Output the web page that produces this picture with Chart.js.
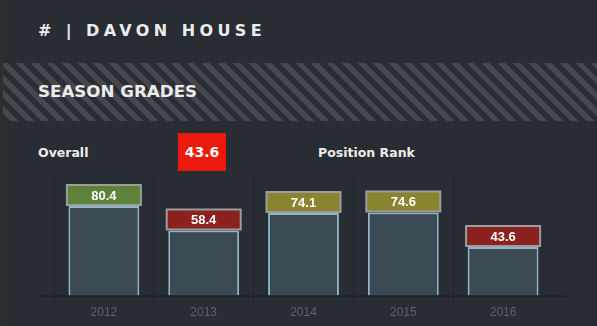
<!DOCTYPE html>
<html>
<head>
<meta charset="utf-8">
<title>Season Grades</title>
<script src="https://cdn.jsdelivr.net/npm/chart.js@4.4.0/dist/chart.umd.min.js"></script>
<style>
  body { margin:0; width:597px; height:326px; background:#282c33; overflow:hidden; position:relative;
         font-family:"DejaVu Sans", sans-serif; color:#ececec; }
  .edge { position:absolute; left:0; top:0; width:3px; height:326px; background:#2c2e30; }
  .name { position:absolute; left:38px; top:23px; font-size:16px; line-height:16px; font-weight:bold; letter-spacing:4.4px; margin:0; }
  .band { position:absolute; left:3px; top:63px; width:594px; height:58px;
          background:repeating-linear-gradient(45deg, #2a2d33 0px, #2a2d33 5.5px, #45474c 5.5px, #45474c 11px); }
  .band span { position:absolute; left:35px; top:20px; font-size:16.7px; line-height:17px; font-weight:bold; }
  .lbl { position:absolute; top:146px; font-size:12.5px; line-height:13px; font-weight:bold; }
  .grade { position:absolute; left:178px; top:133px; width:48px; height:38px; background:#ec1a0c;
           font-size:14px; font-weight:bold; line-height:38px; text-align:center; color:#fff; }
  #chart { position:absolute; left:0; top:0; }
</style>
</head>
<body>
<div class="edge"></div>
<h1 class="name"># | DAVON HOUSE</h1>
<div class="band"><span>SEASON GRADES</span></div>
<div class="lbl" style="left:38px">Overall</div>
<div class="grade">43.6</div>
<div class="lbl" style="left:318px">Position Rank</div>
<canvas id="chart" width="597" height="326"></canvas>

<script>
var seasons = ['2012', '2013', '2014', '2015', '2016'];
var grades = [80.4, 58.4, 74.1, 74.6, 43.6];

function gradeColor(v) {
  if (v >= 80) return '#5f8239';
  if (v >= 60) return '#8a8431';
  return '#8b221f';
}

// grade box sitting on top of each bar, plus the long baseline
var gradeBoxes = {
  id: 'gradeBoxes',
  beforeDatasetsDraw: function(chart) {
    var c = chart.ctx, a = chart.chartArea;
    c.save();
    c.strokeStyle = '#1c1f23';
    c.lineWidth = 1;
    c.beginPath();
    c.moveTo(a.left - 16, a.bottom + 0.5);
    c.lineTo(a.right + 14, a.bottom + 0.5);
    c.stroke();
    c.restore();
  },
  afterDatasetsDraw: function(chart) {
    var c = chart.ctx;
    var bars = chart.getDatasetMeta(0).data;
    c.save();
    bars.forEach(function(bar, i) {
      var v = grades[i];
      var w = 74, h = 20;
      var x = bar.x - w / 2, y = bar.y - h - 1;
      c.fillStyle = gradeColor(v);
      c.fillRect(x, y, w, h);
      c.strokeStyle = '#9c9c9c';
      c.lineWidth = 2;
      c.strokeRect(x, y, w, h);
      c.fillStyle = '#ffffff';
      c.font = 'bold 13px "Liberation Sans", Arial, sans-serif';
      c.textAlign = 'center';
      c.textBaseline = 'middle';
      c.fillText(v.toFixed(1), bar.x, y + h / 2 + 1);
    });
    c.restore();
  }
};

new Chart(document.getElementById('chart'), {
  type: 'bar',
  data: {
    labels: seasons,
    datasets: [{
      data: grades,
      backgroundColor: '#3b4952',
      borderColor: '#8fb5c9',
      borderWidth: 2,
      borderSkipped: 'bottom',
      barPercentage: 0.71,
      categoryPercentage: 1
    }]
  },
  options: {
    responsive: false,
    animation: false,
    layout: { padding: { left: 54, right: 44, top: 173, bottom: 5 } },
    plugins: { legend: { display: false }, tooltip: { enabled: false } },
    scales: {
      x: {
        grid: {
          offset: true,
          tickLength: 9,
          color: function(ctx) { return ctx.index < seasons.length ? '#1f2226' : 'rgba(0,0,0,0)'; }
        },
        border: { display: false },
        ticks: { color: '#5f6267', font: { family: '"Liberation Sans", Arial, sans-serif', size: 12 }, padding: 1 }
      },
      y: { display: false, min: 0, max: 110 }
    }
  },
  plugins: [gradeBoxes]
});
</script>
</body>
</html>
